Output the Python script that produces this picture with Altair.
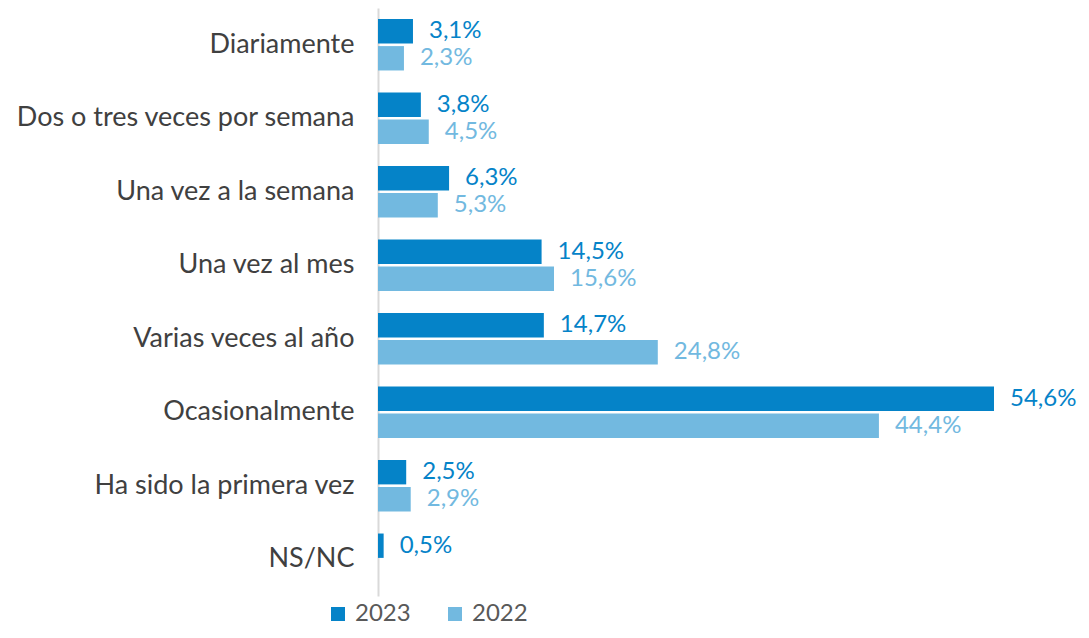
import altair as alt
import pandas as pd

categories = ["Diariamente", "Dos o tres veces por semana", "Una vez a la semana",
              "Una vez al mes", "Varias veces al año", "Ocasionalmente",
              "Ha sido la primera vez", "NS/NC"]
values_2023 = [3.1, 3.8, 6.3, 14.5, 14.7, 54.6, 2.5, 0.5]
values_2022 = [2.3, 4.5, 5.3, 15.6, 24.8, 44.4, 2.9, None]
series = ["2023", "2022"]
colors = ["#0583C8", "#72B9E0"]

rows = []
for c, a, b in zip(categories, values_2023, values_2022):
    for s, v in (("2023", a), ("2022", b)):
        if v is not None:
            rows.append({"cat": c, "serie": s, "valor": v,
                         "etiqueta": f"{v:.1f}".replace(".", ",") + "%"})
df = pd.DataFrame(rows)

FONT = "Lato"

y_enc = alt.Y("cat:N", sort=categories,
              scale=alt.Scale(paddingInner=0.3, paddingOuter=0.15),
              axis=alt.Axis(title=None, ticks=False, labelFont=FONT, labelFontSize=27,
                            labelColor="#404040", labelPadding=24, labelLimit=0,
                            domainColor="#D9D9D9", domainWidth=2, grid=False))
yoff = alt.YOffset("serie:N", sort=series, scale=alt.Scale(paddingInner=0.1))
color_enc = alt.Color("serie:N", sort=series,
                      scale=alt.Scale(domain=series, range=colors),
                      legend=alt.Legend(title=None, orient="none", direction="horizontal",
                                        legendX=-52, legendY=594,
                                        symbolType="square", symbolSize=196,
                                        symbolStrokeWidth=0,
                                        labelFont=FONT, labelFontSize=24,
                                        labelColor="#595959", columnPadding=32,
                                        labelOffset=5))
x_enc = alt.X("valor:Q", scale=alt.Scale(domain=[0, 54.6], nice=False), axis=None)

base = alt.Chart(df)
bars = base.mark_bar().encode(x=x_enc, y=y_enc, yOffset=yoff, color=color_enc)
texts = base.mark_text(align="left", baseline="middle", dx=16, font=FONT, fontSize=24).encode(
    x=x_enc, y=y_enc, yOffset=yoff, text="etiqueta:N",
    color=alt.Color("serie:N", sort=series, scale=alt.Scale(domain=series, range=colors),
                    legend=None))

chart = (bars + texts).properties(
    width=616, height=588,
    background="white",
    autosize=alt.AutoSizeParams(type="none"),
    padding={"left": 370, "top": 0, "right": 87, "bottom": 34},
).configure_view(stroke=None)

chart.save("out.html", embed_options={"renderer": "svg", "actions": False})
